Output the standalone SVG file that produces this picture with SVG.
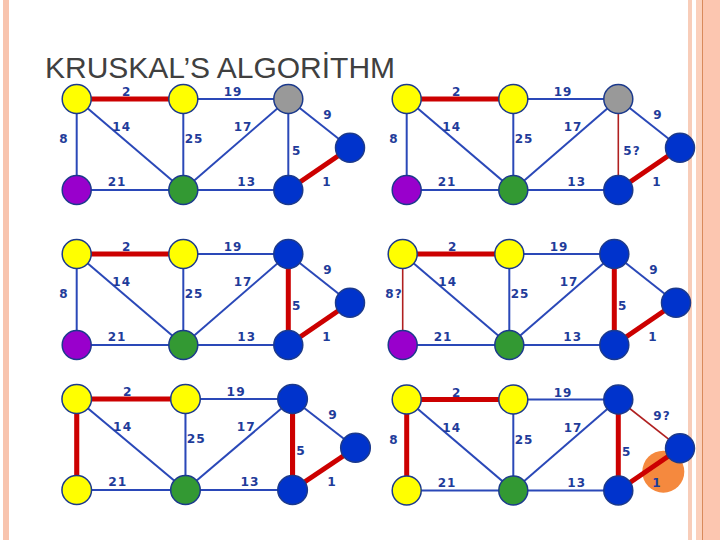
<svg xmlns="http://www.w3.org/2000/svg" width="720" height="540" viewBox="0 0 720 540">
<style>
.e{stroke:#2a48b8;stroke-width:2;fill:none}
.r{stroke:#cc0000;stroke-width:5;fill:none}
.q{stroke:#b02020;stroke-width:1.6;fill:none}
.n{stroke:#1c3a8c;stroke-width:1.5}
.y{fill:#ffff00}.gy{fill:#999999}.b{fill:#0033cc}.gr{fill:#339933}.p{fill:#9900cc}
.t{font-family:"DejaVu Sans",Verdana,sans-serif;font-weight:bold;font-size:12px;fill:#1f3c9a;text-anchor:middle;letter-spacing:1px}
.title{font-family:"Liberation Sans",Arial,sans-serif;font-size:30px;fill:#404040}
</style>
<rect width="720" height="540" fill="#ffffff"/>
<g id="border">
<rect x="3" y="0" width="6" height="540" fill="#f8c4ae"/>
<rect x="688" y="0" width="4" height="540" fill="#f8cdb9"/>
<rect x="696" y="0" width="24" height="540" fill="#fcc6b0"/>
<rect x="696" y="0" width="6" height="540" fill="#fbd0bc"/>
<line x1="702.5" y1="0" x2="702.5" y2="540" stroke="#d98a5c" stroke-width="1"/>
</g>
<text class="title" x="45" y="78">KRUSKAL’S ALGORİTHM</text>

<!-- Panel 1 -->
<g id="panel1">
<g id="p1-connectors">
<line class="r" x1="76.7" y1="99" x2="183.3" y2="99"/>
<line class="e" x1="183.3" y1="99" x2="288.3" y2="99"/>
<line class="e" x1="288.3" y1="99" x2="350" y2="147.7"/>
<line class="e" x1="76.7" y1="99" x2="76.7" y2="190"/>
<line class="e" x1="76.7" y1="99" x2="183.3" y2="190"/>
<line class="e" x1="183.3" y1="99" x2="183.3" y2="190"/>
<line class="e" x1="288.3" y1="99" x2="183.3" y2="190"/>
<line class="e" x1="288.3" y1="99" x2="288.3" y2="190"/>
<line class="r" x1="288.3" y1="190" x2="350" y2="147.7"/>
<line class="e" x1="76.7" y1="190" x2="183.3" y2="190"/>
<line class="e" x1="183.3" y1="190" x2="288.3" y2="190"/>
</g>
<g id="p1-A"><circle class="n y" cx="76.7" cy="99" r="14.5"/></g>
<g id="p1-B"><circle class="n y" cx="183.3" cy="99" r="14.5"/></g>
<g id="p1-C"><circle class="n gy" cx="288.3" cy="99" r="14.5"/></g>
<g id="p1-D"><circle class="n b" cx="350" cy="147.7" r="14.5"/></g>
<g id="p1-E"><circle class="n b" cx="288.3" cy="190" r="14.5"/></g>
<g id="p1-F"><circle class="n gr" cx="183.3" cy="190" r="14.5"/></g>
<g id="p1-G"><circle class="n p" cx="76.7" cy="190" r="14.5"/></g>
<g id="p1-labels">
<text class="t" x="126.7" y="96">2</text><text class="t" x="233" y="96">19</text><text class="t" x="328" y="119">9</text>
<text class="t" x="121.7" y="131">14</text><text class="t" x="243" y="131">17</text><text class="t" x="64" y="143">8</text>
<text class="t" x="194" y="143">25</text><text class="t" x="296.7" y="155">5</text><text class="t" x="117" y="186">21</text>
<text class="t" x="246.7" y="186">13</text><text class="t" x="327" y="186">1</text>
</g>
</g>

<!-- Panel 2 -->
<g id="panel2" transform="translate(330,0)">
<g id="p2-connectors">
<line class="r" x1="76.7" y1="99" x2="183.3" y2="99"/>
<line class="e" x1="183.3" y1="99" x2="288.3" y2="99"/>
<line class="e" x1="288.3" y1="99" x2="350" y2="147.7"/>
<line class="e" x1="76.7" y1="99" x2="76.7" y2="190"/>
<line class="e" x1="76.7" y1="99" x2="183.3" y2="190"/>
<line class="e" x1="183.3" y1="99" x2="183.3" y2="190"/>
<line class="e" x1="288.3" y1="99" x2="183.3" y2="190"/>
<line class="q" x1="288.3" y1="99" x2="288.3" y2="190"/>
<line class="r" x1="288.3" y1="190" x2="350" y2="147.7"/>
<line class="e" x1="76.7" y1="190" x2="183.3" y2="190"/>
<line class="e" x1="183.3" y1="190" x2="288.3" y2="190"/>
</g>
<g id="p2-A"><circle class="n y" cx="76.7" cy="99" r="14.5"/></g>
<g id="p2-B"><circle class="n y" cx="183.3" cy="99" r="14.5"/></g>
<g id="p2-C"><circle class="n gy" cx="288.3" cy="99" r="14.5"/></g>
<g id="p2-D"><circle class="n b" cx="350" cy="147.7" r="14.5"/></g>
<g id="p2-E"><circle class="n b" cx="288.3" cy="190" r="14.5"/></g>
<g id="p2-F"><circle class="n gr" cx="183.3" cy="190" r="14.5"/></g>
<g id="p2-G"><circle class="n p" cx="76.7" cy="190" r="14.5"/></g>
<g id="p2-labels">
<text class="t" x="126.7" y="96">2</text><text class="t" x="233" y="96">19</text><text class="t" x="328" y="119">9</text>
<text class="t" x="121.7" y="131">14</text><text class="t" x="243" y="131">17</text><text class="t" x="64" y="143">8</text>
<text class="t" x="194" y="143">25</text><text class="t" x="302" y="155">5?</text><text class="t" x="117" y="186">21</text>
<text class="t" x="246.7" y="186">13</text><text class="t" x="327" y="186">1</text>
</g>
</g>

<!-- Panel 3 -->
<g id="panel3" transform="translate(0,155)">
<g id="p3-connectors">
<line class="r" x1="76.7" y1="99" x2="183.3" y2="99"/>
<line class="e" x1="183.3" y1="99" x2="288.3" y2="99"/>
<line class="e" x1="288.3" y1="99" x2="350" y2="147.7"/>
<line class="e" x1="76.7" y1="99" x2="76.7" y2="190"/>
<line class="e" x1="76.7" y1="99" x2="183.3" y2="190"/>
<line class="e" x1="183.3" y1="99" x2="183.3" y2="190"/>
<line class="e" x1="288.3" y1="99" x2="183.3" y2="190"/>
<line class="r" x1="288.3" y1="99" x2="288.3" y2="190"/>
<line class="r" x1="288.3" y1="190" x2="350" y2="147.7"/>
<line class="e" x1="76.7" y1="190" x2="183.3" y2="190"/>
<line class="e" x1="183.3" y1="190" x2="288.3" y2="190"/>
</g>
<g id="p3-A"><circle class="n y" cx="76.7" cy="99" r="14.5"/></g>
<g id="p3-B"><circle class="n y" cx="183.3" cy="99" r="14.5"/></g>
<g id="p3-C"><circle class="n b" cx="288.3" cy="99" r="14.5"/></g>
<g id="p3-D"><circle class="n b" cx="350" cy="147.7" r="14.5"/></g>
<g id="p3-E"><circle class="n b" cx="288.3" cy="190" r="14.5"/></g>
<g id="p3-F"><circle class="n gr" cx="183.3" cy="190" r="14.5"/></g>
<g id="p3-G"><circle class="n p" cx="76.7" cy="190" r="14.5"/></g>
<g id="p3-labels">
<text class="t" x="126.7" y="96">2</text><text class="t" x="233" y="96">19</text><text class="t" x="328" y="119">9</text>
<text class="t" x="121.7" y="131">14</text><text class="t" x="243" y="131">17</text><text class="t" x="64" y="143">8</text>
<text class="t" x="194" y="143">25</text><text class="t" x="296.7" y="155">5</text><text class="t" x="117" y="186">21</text>
<text class="t" x="246.7" y="186">13</text><text class="t" x="327" y="186">1</text>
</g>
</g>

<!-- Panel 4 -->
<g id="panel4" transform="translate(326,155)">
<g id="p4-connectors">
<line class="r" x1="76.7" y1="99" x2="183.3" y2="99"/>
<line class="e" x1="183.3" y1="99" x2="288.3" y2="99"/>
<line class="e" x1="288.3" y1="99" x2="350" y2="147.7"/>
<line class="q" x1="76.7" y1="99" x2="76.7" y2="190"/>
<line class="e" x1="76.7" y1="99" x2="183.3" y2="190"/>
<line class="e" x1="183.3" y1="99" x2="183.3" y2="190"/>
<line class="e" x1="288.3" y1="99" x2="183.3" y2="190"/>
<line class="r" x1="288.3" y1="99" x2="288.3" y2="190"/>
<line class="r" x1="288.3" y1="190" x2="350" y2="147.7"/>
<line class="e" x1="76.7" y1="190" x2="183.3" y2="190"/>
<line class="e" x1="183.3" y1="190" x2="288.3" y2="190"/>
</g>
<g id="p4-A"><circle class="n y" cx="76.7" cy="99" r="14.5"/></g>
<g id="p4-B"><circle class="n y" cx="183.3" cy="99" r="14.5"/></g>
<g id="p4-C"><circle class="n b" cx="288.3" cy="99" r="14.5"/></g>
<g id="p4-D"><circle class="n b" cx="350" cy="147.7" r="14.5"/></g>
<g id="p4-E"><circle class="n b" cx="288.3" cy="190" r="14.5"/></g>
<g id="p4-F"><circle class="n gr" cx="183.3" cy="190" r="14.5"/></g>
<g id="p4-G"><circle class="n p" cx="76.7" cy="190" r="14.5"/></g>
<g id="p4-labels">
<text class="t" x="126.7" y="96">2</text><text class="t" x="233" y="96">19</text><text class="t" x="328" y="119">9</text>
<text class="t" x="121.7" y="131">14</text><text class="t" x="243" y="131">17</text><text class="t" x="68" y="143">8?</text>
<text class="t" x="194" y="143">25</text><text class="t" x="296.7" y="155">5</text><text class="t" x="117" y="186">21</text>
<text class="t" x="246.7" y="186">13</text><text class="t" x="327" y="186">1</text>
</g>
</g>

<!-- Panel 5 -->
<g id="panel5" transform="translate(-1.5,300) scale(1.02,1)">
<g id="p5-connectors">
<line class="r" x1="76.7" y1="99" x2="183.3" y2="99"/>
<line class="e" x1="183.3" y1="99" x2="288.3" y2="99"/>
<line class="e" x1="288.3" y1="99" x2="350" y2="147.7"/>
<line class="r" x1="76.7" y1="99" x2="76.7" y2="190"/>
<line class="e" x1="76.7" y1="99" x2="183.3" y2="190"/>
<line class="e" x1="183.3" y1="99" x2="183.3" y2="190"/>
<line class="e" x1="288.3" y1="99" x2="183.3" y2="190"/>
<line class="r" x1="288.3" y1="99" x2="288.3" y2="190"/>
<line class="r" x1="288.3" y1="190" x2="350" y2="147.7"/>
<line class="e" x1="76.7" y1="190" x2="183.3" y2="190"/>
<line class="e" x1="183.3" y1="190" x2="288.3" y2="190"/>
</g>
<g id="p5-A"><circle class="n y" cx="76.7" cy="99" r="14.5"/></g>
<g id="p5-B"><circle class="n y" cx="183.3" cy="99" r="14.5"/></g>
<g id="p5-C"><circle class="n b" cx="288.3" cy="99" r="14.5"/></g>
<g id="p5-D"><circle class="n b" cx="350" cy="147.7" r="14.5"/></g>
<g id="p5-E"><circle class="n b" cx="288.3" cy="190" r="14.5"/></g>
<g id="p5-F"><circle class="n gr" cx="183.3" cy="190" r="14.5"/></g>
<g id="p5-G"><circle class="n y" cx="76.7" cy="190" r="14.5"/></g>
<g id="p5-labels">
<text class="t" x="126.7" y="96">2</text><text class="t" x="233" y="96">19</text><text class="t" x="328" y="119">9</text>
<text class="t" x="121.7" y="131">14</text><text class="t" x="243" y="131">17</text>
<text class="t" x="194" y="143">25</text><text class="t" x="296.7" y="155">5</text><text class="t" x="117" y="186">21</text>
<text class="t" x="246.7" y="186">13</text><text class="t" x="327" y="186">1</text>
</g>
</g>

<!-- Panel 6 -->
<g id="panel6" transform="translate(330,300.5)">
<circle id="p6-highlight" cx="333.3" cy="171.2" r="21" fill="#f5893e"/>
<g id="p6-connectors">
<line class="r" x1="76.7" y1="99" x2="183.3" y2="99"/>
<line class="e" x1="183.3" y1="99" x2="288.3" y2="99"/>
<line class="q" x1="288.3" y1="99" x2="350" y2="147.7"/>
<line class="r" x1="76.7" y1="99" x2="76.7" y2="190"/>
<line class="e" x1="76.7" y1="99" x2="183.3" y2="190"/>
<line class="e" x1="183.3" y1="99" x2="183.3" y2="190"/>
<line class="e" x1="288.3" y1="99" x2="183.3" y2="190"/>
<line class="r" x1="288.3" y1="99" x2="288.3" y2="190"/>
<line class="r" x1="288.3" y1="190" x2="350" y2="147.7"/>
<line class="e" x1="76.7" y1="190" x2="183.3" y2="190"/>
<line class="e" x1="183.3" y1="190" x2="288.3" y2="190"/>
</g>
<g id="p6-A"><circle class="n y" cx="76.7" cy="99" r="14.5"/></g>
<g id="p6-B"><circle class="n y" cx="183.3" cy="99" r="14.5"/></g>
<g id="p6-C"><circle class="n b" cx="288.3" cy="99" r="14.5"/></g>
<g id="p6-D"><circle class="n b" cx="350" cy="147.7" r="14.5"/></g>
<g id="p6-E"><circle class="n b" cx="288.3" cy="190" r="14.5"/></g>
<g id="p6-F"><circle class="n gr" cx="183.3" cy="190" r="14.5"/></g>
<g id="p6-G"><circle class="n y" cx="76.7" cy="190" r="14.5"/></g>
<g id="p6-labels">
<text class="t" x="126.7" y="96">2</text><text class="t" x="233" y="96">19</text><text class="t" x="332" y="119">9?</text>
<text class="t" x="121.7" y="131">14</text><text class="t" x="243" y="131">17</text><text class="t" x="64" y="143">8</text>
<text class="t" x="194" y="143">25</text><text class="t" x="296.7" y="155">5</text><text class="t" x="117" y="186">21</text>
<text class="t" x="246.7" y="186">13</text><text class="t" x="327" y="186">1</text>
</g>
</g>
</svg>
